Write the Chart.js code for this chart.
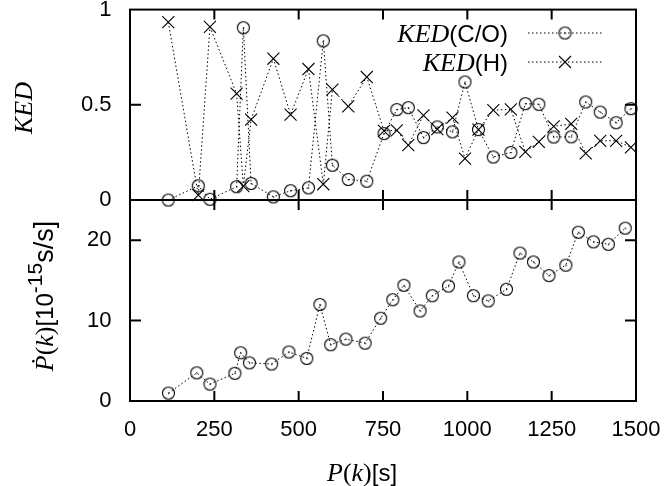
<!DOCTYPE html>
<html><head><meta charset="utf-8">
<script src="https://cdn.jsdelivr.net/npm/chart.js@4.4.1/dist/chart.umd.min.js"></script>
<style>html,body{margin:0;padding:0;background:#fff}#wrap{position:relative;width:669px;height:486px}</style>
</head><body><div id="wrap"><canvas id="c" width="669" height="486"></canvas></div>
<script>
// ---- data ----
const P_TOP = [113.5,202.5,237,316,336,359,425,476,529,573,600,647,702,753,791,825,870,911,956,993,1033,1077,1129,1172,1212,1256,1308,1351,1394,1441,1485];
const KED_CO = [0.0,0.075,0.004,0.07,0.905,0.087,0.017,0.049,0.064,0.836,0.183,0.108,0.099,0.349,0.475,0.485,0.328,0.384,0.358,0.62,0.37,0.226,0.25,0.506,0.503,0.331,0.332,0.515,0.462,0.406,0.48];
const KED_H  = [0.934,0.026,0.909,0.559,0.073,0.422,0.742,0.449,0.688,0.083,0.58,0.492,0.646,0.363,0.366,0.288,0.445,0.372,0.433,0.218,0.37,0.472,0.476,0.253,0.305,0.387,0.40,0.245,0.311,0.311,0.277];
const P_BOT = [114,198,237,311,328,354,420,471,524,563,595,640,697,743,779,812,860,896,944,975,1018,1062,1116,1156,1196,1242,1292,1329,1374,1418,1468];
const PDOT  = [0.98,3.5,2.1,3.45,6.0,4.75,4.6,6.1,5.3,12.0,7.0,7.7,7.2,10.3,12.6,14.4,11.2,13.1,14.3,17.3,13.1,12.45,13.9,18.4,17.3,15.6,16.9,21.0,19.8,19.5,21.5];
const X_TICKS = [0,250,500,750,1000,1250,1500];
const KED_TICKS = [0,0.5,1];
const PDOT_TICKS = [0,10,20];
const LEGEND_LABELS = [["KED","(C/O)"],["KED","(H)"]];

// ---- fonts ----
const SANS_FAM = "'Liberation Sans', Arial, sans-serif";
const TICK_SIZE = 22;
const SANS = "24px " + SANS_FAM;
const SANS_BIG = "27px " + SANS_FAM;
const SANS_SUP = "21px " + SANS_FAM;
const SERIF_I = "italic 26px 'Liberation Serif', 'DejaVu Serif', serif";
const SERIF = "26px 'Liberation Serif', 'DejaVu Serif', serif";

// ---- marker images ----
function circleImg(){
  const c=document.createElement('canvas');c.width=15;c.height=15;
  const g=c.getContext('2d');g.strokeStyle='#000';g.lineWidth=1.1;
  g.beginPath();g.arc(7.5,7.5,6,0,Math.PI*2);g.stroke();
  g.fillStyle='#000';g.fillRect(7,7,1.3,1.3);return c;
}
const CIRC = circleImg();

function drawSegs(ctx, segs, x, y, align){
  let total=0;
  segs.forEach(s=>{ctx.font=s.f;s.w=ctx.measureText(s.t).width;total+=s.w;});
  let cx = align==='right'? x-total : align==='center'? x-total/2 : x;
  ctx.textBaseline='alphabetic';ctx.textAlign='left';ctx.fillStyle='#000';
  segs.forEach(s=>{ctx.font=s.f;ctx.fillText(s.t,cx,y+(s.dy||0));cx+=s.w;});
}

const decor = {
  id:'decor',
  afterDatasetsDraw(chart){
    const ctx=chart.ctx, a=chart.chartArea, x=chart.scales.x, yK=chart.scales.yK, yP=chart.scales.yP;
    ctx.save();
    ctx.strokeStyle='#000';ctx.lineWidth=2;ctx.setLineDash([]);
    ctx.strokeRect(a.left,a.top,a.right-a.left,a.bottom-a.top);
    ctx.beginPath();ctx.moveTo(a.left,yK.bottom);ctx.lineTo(a.right,yK.bottom);ctx.stroke();
    const TL=10;
    ctx.beginPath();
    X_TICKS.forEach(v=>{
      const px=x.getPixelForValue(v);
      if(v===X_TICKS[0]||v===X_TICKS[X_TICKS.length-1])return;
      [[yK.top,1],[yK.bottom,-1],[yP.top,1],[yP.bottom,-1]].forEach(([yy,d])=>{ctx.moveTo(px,yy);ctx.lineTo(px,yy+d*TL);});
    });
    [[yK,KED_TICKS],[yP,PDOT_TICKS]].forEach(([s,ts])=>{
      ts.forEach(v=>{
        const py=s.getPixelForValue(v);
        if(Math.abs(py-s.top)<1||Math.abs(py-s.bottom)<1)return;
        ctx.moveTo(a.left,py);ctx.lineTo(a.left+TL+1,py);
        ctx.moveTo(a.right,py);ctx.lineTo(a.right-TL-1,py);
      });
    });
    ctx.stroke();

    // legend
    const rows=[{y:33,marker:'c'},{y:62,marker:'x'}];
    rows.forEach((r,i)=>{
      drawSegs(ctx,[{t:LEGEND_LABELS[i][0],f:SERIF_I},{t:LEGEND_LABELS[i][1],f:SANS}],508,r.y+9,'right');
      ctx.lineWidth=1;ctx.setLineDash([1.5,2.5]);
      ctx.beginPath();ctx.moveTo(528,r.y);ctx.lineTo(603,r.y);ctx.stroke();
      ctx.setLineDash([]);
      if(r.marker==='c'){ctx.drawImage(CIRC,565-7.5,r.y-7.5);}
      else{ctx.lineWidth=1.1;ctx.beginPath();ctx.moveTo(559,r.y-6);ctx.lineTo(571,r.y+6);ctx.moveTo(571,r.y-6);ctx.lineTo(559,r.y+6);ctx.stroke();}
    });

    // axis titles
    drawSegs(ctx,[{t:'P',f:SERIF_I},{t:'(',f:SERIF},{t:'k',f:SERIF_I},{t:')',f:SERIF},{t:'[s]',f:SANS}],327,481,'left');
    ctx.save();ctx.translate(32,108);ctx.rotate(-Math.PI/2);
    drawSegs(ctx,[{t:'KED',f:SERIF_I}],0,0,'center');ctx.restore();
    ctx.save();ctx.translate(53,296);ctx.rotate(-Math.PI/2);
    drawSegs(ctx,[{t:'\u1E56',f:SERIF_I},{t:'(',f:SERIF},{t:'k',f:SERIF_I},{t:')',f:SERIF},{t:'[10',f:SANS},{t:'-15',f:SANS_SUP,dy:-11},{t:'s/s]',f:SANS_BIG}],0,0,'center');
    ctx.restore();
    ctx.restore();
  }
};

function zeroPad(s){s.paddingTop=0;s.paddingBottom=0;s.paddingLeft=0;s.paddingRight=0;}
const tickFont={family:SANS_FAM,size:TICK_SIZE,lineHeight:1.2};
const lineStyle={borderColor:'#000',borderWidth:1,borderDash:[1.5,2.5],showLine:true,fill:false,clip:false,
  pointBorderColor:'#000',pointBackgroundColor:'rgba(0,0,0,0)',pointBorderWidth:1.1};

new Chart(document.getElementById('c'),{
  type:'scatter',
  data:{datasets:[
    Object.assign({label:'KED(C/O)',yAxisID:'yK',data:P_TOP.map((p,i)=>({x:p,y:KED_CO[i]})),pointStyle:CIRC,pointRadius:6},lineStyle),
    Object.assign({label:'KED(H)',yAxisID:'yK',data:P_TOP.map((p,i)=>({x:p,y:KED_H[i]})),pointStyle:'crossRot',pointRadius:8.5},lineStyle),
    Object.assign({label:'Pdot',yAxisID:'yP',data:P_BOT.map((p,i)=>({x:p,y:PDOT[i]})),pointStyle:CIRC,pointRadius:6},lineStyle)
  ]},
  options:{
    responsive:false,animation:false,devicePixelRatio:1,
    layout:{padding:{left:0,right:33,top:9.5,bottom:0}},
    plugins:{legend:{display:false},tooltip:{enabled:false}},
    scales:{
      x:{type:'linear',position:'bottom',min:0,max:1500,
        grid:{display:false,drawTicks:false},border:{display:false},
        afterBuildTicks:s=>{s.ticks=X_TICKS.map(v=>({value:v}));},
        ticks:{color:'#000',font:tickFont,padding:16,maxRotation:0,autoSkip:false,callback:v=>String(v)},
        afterFit:s=>{s.height=85;zeroPad(s);}},
      yP:{type:'linear',position:'left',stack:'v',stackWeight:201,min:0,max:25,
        grid:{display:false,drawTicks:false},border:{display:false},
        afterBuildTicks:s=>{s.ticks=PDOT_TICKS.map(v=>({value:v}));},
        ticks:{color:'#000',font:tickFont,padding:18.5,callback:v=>String(v)},
        afterFit:s=>{s.width=130;zeroPad(s);}},
      yK:{type:'linear',position:'left',stack:'v',stackWeight:190.5,min:0,max:1,
        grid:{display:false,drawTicks:false},border:{display:false},
        afterBuildTicks:s=>{s.ticks=KED_TICKS.map(v=>({value:v}));},
        ticks:{color:'#000',font:tickFont,padding:18.5,callback:v=>String(v)},
        afterFit:s=>{s.width=130;zeroPad(s);}}
    }
  },
  plugins:[decor]
});
</script></body></html>
